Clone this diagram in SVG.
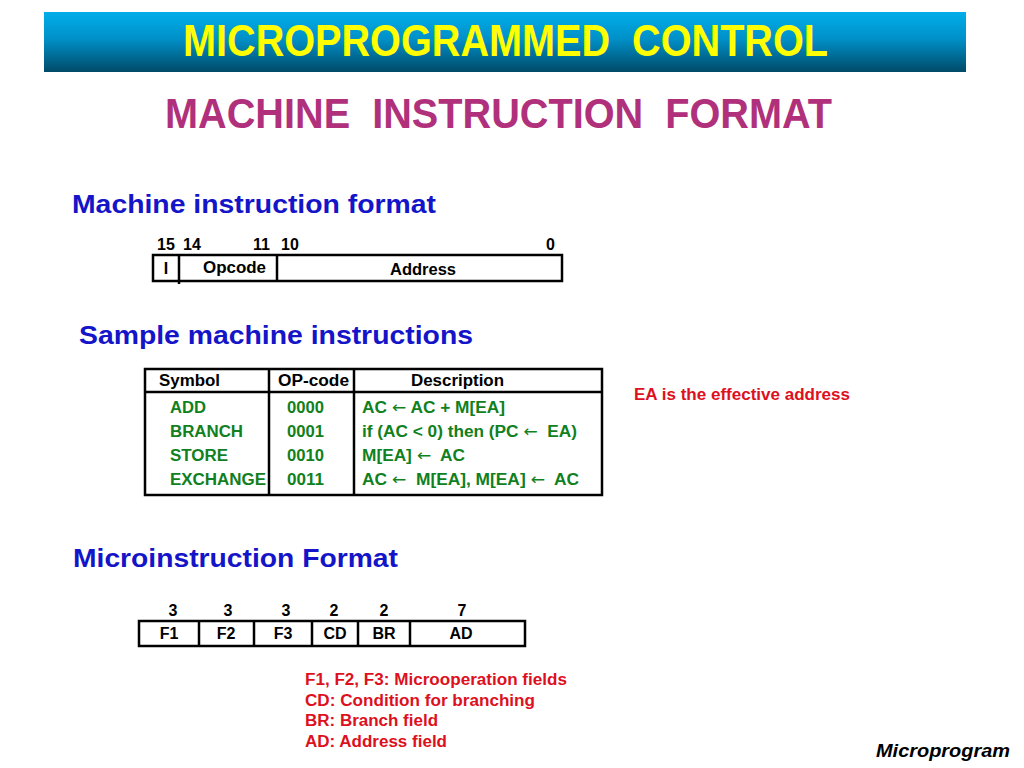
<svg xmlns="http://www.w3.org/2000/svg" width="1024" height="768" viewBox="0 0 1024 768">
<defs>
<linearGradient id="hdr" x1="0" y1="0" x2="0" y2="1">
<stop offset="0" stop-color="#00aeea"/>
<stop offset="0.45" stop-color="#0090c8"/>
<stop offset="1" stop-color="#004a68"/>
</linearGradient>
</defs>
<style>
text{font-family:"Liberation Sans",Arial,sans-serif;font-weight:bold}
.h1{font-size:44px;fill:#ffff00}
.h2{font-size:42px;fill:#b0307c}
.sec{font-size:26px;fill:#1414c8}
.s{font-size:16px;fill:#000}
.g{font-size:16px;fill:#108020}
.r{font-size:16px;fill:#dd1020}
.ar{font-family:"DejaVu Sans",sans-serif;font-weight:normal}
.box{fill:none;stroke:#000;stroke-width:2.5}
.ln{stroke:#000;stroke-width:2.5}
</style>
<rect width="1024" height="768" fill="#fff"/>
<g id="header">
<rect x="44" y="12" width="922" height="60" fill="url(#hdr)"/>
<text class="h1" x="183" y="56" textLength="645" lengthAdjust="spacingAndGlyphs" xml:space="preserve">MICROPROGRAMMED  CONTROL</text>
</g>
<text class="h2" x="165" y="128" textLength="667" lengthAdjust="spacingAndGlyphs" xml:space="preserve">MACHINE  INSTRUCTION  FORMAT</text>

<text class="sec" x="72" y="213" textLength="364" lengthAdjust="spacingAndGlyphs">Machine instruction format</text>
<g id="instr-format">
<text class="s" x="157" y="250">15</text>
<text class="s" x="183" y="250">14</text>
<text class="s" x="253" y="250">11</text>
<text class="s" x="281" y="250">10</text>
<text class="s" x="546" y="250">0</text>
<rect class="box" x="153" y="255" width="409" height="26"/>
<line class="ln" x1="179" y1="255" x2="179" y2="284"/>
<line class="ln" x1="277" y1="255" x2="277" y2="281"/>
<text class="s" x="166" y="274" text-anchor="middle">I</text>
<text class="s" x="203" y="273" textLength="63" lengthAdjust="spacingAndGlyphs">Opcode</text>
<text class="s" x="390" y="275" textLength="66" lengthAdjust="spacingAndGlyphs">Address</text>
</g>

<text class="sec" x="79" y="344" textLength="394" lengthAdjust="spacingAndGlyphs">Sample machine instructions</text>
<g id="table">
<rect class="box" x="145" y="369" width="457" height="126"/>
<line class="ln" x1="145" y1="392" x2="602" y2="392"/>
<line class="ln" x1="269" y1="369" x2="269" y2="495"/>
<line class="ln" x1="354" y1="369" x2="354" y2="495"/>
<text class="s" x="159" y="386" textLength="61" lengthAdjust="spacingAndGlyphs">Symbol</text>
<text class="s" x="278" y="386" textLength="71" lengthAdjust="spacingAndGlyphs">OP-code</text>
<text class="s" x="411" y="386" textLength="93" lengthAdjust="spacingAndGlyphs">Description</text>
<text class="g" x="170" y="413" textLength="36" lengthAdjust="spacingAndGlyphs">ADD</text>
<text class="g" x="170" y="437" textLength="73" lengthAdjust="spacingAndGlyphs">BRANCH</text>
<text class="g" x="170" y="461" textLength="58" lengthAdjust="spacingAndGlyphs">STORE</text>
<text class="g" x="170" y="485" textLength="96" lengthAdjust="spacingAndGlyphs">EXCHANGE</text>
<text class="g" x="287" y="413" textLength="37" lengthAdjust="spacingAndGlyphs">0000</text>
<text class="g" x="287" y="437" textLength="37" lengthAdjust="spacingAndGlyphs">0001</text>
<text class="g" x="287" y="461" textLength="37" lengthAdjust="spacingAndGlyphs">0010</text>
<text class="g" x="287" y="485" textLength="37" lengthAdjust="spacingAndGlyphs">0011</text>
<text class="g" x="362" y="413" textLength="143" lengthAdjust="spacingAndGlyphs">AC <tspan class="ar">←</tspan> AC + M[EA]</text>
<text class="g" x="362" y="437" textLength="215" lengthAdjust="spacingAndGlyphs" xml:space="preserve">if (AC &lt; 0) then (PC <tspan class="ar">←</tspan>  EA)</text>
<text class="g" x="362" y="461" textLength="103" lengthAdjust="spacingAndGlyphs" xml:space="preserve">M[EA] <tspan class="ar">←</tspan>  AC</text>
<text class="g" x="362" y="485" textLength="217" lengthAdjust="spacingAndGlyphs" xml:space="preserve">AC <tspan class="ar">←</tspan>  M[EA], M[EA] <tspan class="ar">←</tspan>  AC</text>
</g>
<text class="r" x="634" y="400" textLength="216" lengthAdjust="spacingAndGlyphs">EA is the effective address</text>

<text class="sec" x="73" y="567" textLength="325" lengthAdjust="spacingAndGlyphs">Microinstruction Format</text>
<g id="micro-format">
<text class="s" x="173" y="616" text-anchor="middle">3</text>
<text class="s" x="228" y="616" text-anchor="middle">3</text>
<text class="s" x="286" y="616" text-anchor="middle">3</text>
<text class="s" x="334" y="616" text-anchor="middle">2</text>
<text class="s" x="384" y="616" text-anchor="middle">2</text>
<text class="s" x="462" y="616" text-anchor="middle">7</text>
<rect class="box" x="139" y="621" width="386" height="25"/>
<line class="ln" x1="199" y1="621" x2="199" y2="646"/>
<line class="ln" x1="254" y1="621" x2="254" y2="646"/>
<line class="ln" x1="312" y1="621" x2="312" y2="646"/>
<line class="ln" x1="358" y1="621" x2="358" y2="646"/>
<line class="ln" x1="410" y1="621" x2="410" y2="646"/>
<text class="s" x="169" y="639" text-anchor="middle">F1</text>
<text class="s" x="226" y="639" text-anchor="middle">F2</text>
<text class="s" x="283" y="639" text-anchor="middle">F3</text>
<text class="s" x="335" y="639" text-anchor="middle">CD</text>
<text class="s" x="384" y="639" text-anchor="middle">BR</text>
<text class="s" x="461" y="639" text-anchor="middle">AD</text>
</g>
<g id="notes">
<text class="r" x="305" y="685" textLength="262" lengthAdjust="spacingAndGlyphs">F1, F2, F3: Microoperation fields</text>
<text class="r" x="305" y="706" textLength="230" lengthAdjust="spacingAndGlyphs">CD: Condition for branching</text>
<text class="r" x="305" y="726" textLength="133" lengthAdjust="spacingAndGlyphs">BR: Branch field</text>
<text class="r" x="305" y="747" textLength="142" lengthAdjust="spacingAndGlyphs">AD: Address field</text>
</g>
<text x="876" y="757" style="font-size:18px;font-style:italic;fill:#000" textLength="134" lengthAdjust="spacingAndGlyphs">Microprogram</text>
</svg>
